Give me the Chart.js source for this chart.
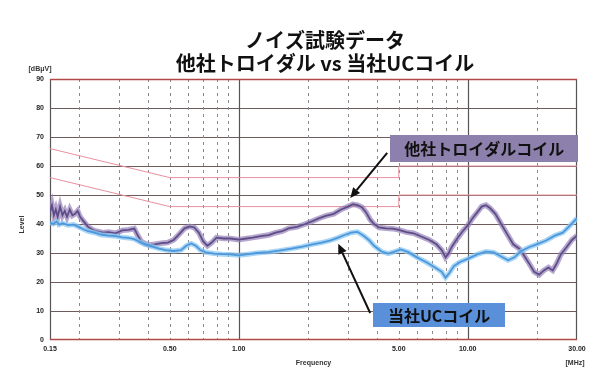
<!DOCTYPE html>
<html>
<head>
<meta charset="utf-8">
<script src="https://cdn.jsdelivr.net/npm/chart.js@4/dist/chart.umd.min.js"></script>
<style>
  html, body { margin: 0; padding: 0; background: #ffffff; }
  canvas { display: block; }
</style>
</head>
<body>
<canvas id="chart" width="597" height="388"></canvas>
<script>
// ---- text ----
const titleLines = ['ノイズ試験データ', '他社トロイダル vs 当社UCコイル'];
const seriesNames = ['他社トロイダルコイル', '当社UCコイル'];
const yUnit = '[dBμV]';
const yTitle = 'Level';
const xTitle = 'Frequency';
const xUnit = '[MHz]';

// ---- axes ----
const xTickValues = [0.15, 0.5, 1, 5, 10, 30];
const xGridMinor = [0.2, 0.3, 0.4, 0.5, 0.6, 0.7, 0.8, 0.9, 2, 3, 4, 5, 6, 7, 8, 9, 20];
const xGridMajor = [1, 10];
const yTickValues = [0, 10, 20, 30, 40, 50, 60, 70, 80, 90];

// ---- measured noise: other company's toroidal coil (MHz, dBμV) ----
const otherFreq = [0.150, 0.153, 0.156, 0.159, 0.162, 0.166, 0.170, 0.174, 0.178, 0.183,
  0.188, 0.193, 0.198, 0.203, 0.21, 0.22, 0.23, 0.24, 0.255, 0.27,
  0.29, 0.31, 0.33, 0.35, 0.36, 0.375, 0.39, 0.41, 0.43, 0.46,
  0.49, 0.52, 0.55, 0.58, 0.61, 0.64, 0.67, 0.70, 0.73, 0.76,
  0.80, 0.86, 0.92, 1.0, 1.08, 1.15, 1.25, 1.35, 1.45, 1.55,
  1.65, 1.8, 1.95, 2.1, 2.25, 2.4, 2.6, 2.8, 3.0, 3.15,
  3.3, 3.45, 3.6, 3.75, 3.9, 4.1, 4.4, 4.7, 5.0, 5.4,
  5.8, 6.3, 6.8, 7.3, 7.7, 8.0, 8.2, 8.5, 9.0, 9.5,
  10.0, 10.5, 11.0, 11.5, 12.0, 12.5, 13.2, 14.0, 15.0, 15.8,
  16.8, 17.5, 18.5, 19.5, 20.5, 21.5, 22.5, 23.5, 24.5, 25.5,
  27, 28.5, 30];
const otherLevel = [44, 46.5, 43, 45, 42.5, 46, 43, 44.5, 42.5, 45,
  43, 43.5, 44.5, 42.5, 41, 39, 38, 37.5, 37, 37.2,
  36.8, 37.8, 38, 38.4, 36.5, 34, 33.2, 32.8, 33, 33.4,
  33.6, 34.5, 36.5, 38.5, 39.2, 38.8, 37, 34, 32.5, 33.5,
  35.3, 35, 35, 34.6, 35, 35.3, 35.8, 36.2, 37, 37.5,
  38.5, 39, 40, 41, 42, 42.8, 43.5, 45, 46, 46.8,
  46.5, 45.8, 44, 41.5, 40, 38.8, 38.5, 38.4, 38, 37.2,
  36.8, 35.6, 34.5, 33, 31, 28.5, 29.5, 32, 35, 37.5,
  39.5, 42, 44, 46, 46.5, 45.5, 43.5, 40, 36, 33,
  31.5, 29.5, 26.5, 23.5, 22.5, 24, 25, 24, 26.5, 29.5,
  32, 34.5, 36];

// ---- measured noise: our UC coil (MHz, dBμV) ----
const ucFreq = [0.150, 0.155, 0.16, 0.165, 0.17, 0.18, 0.19, 0.2, 0.21, 0.22,
  0.235, 0.25, 0.27, 0.29, 0.31, 0.33, 0.35, 0.37, 0.39, 0.42,
  0.45, 0.48, 0.52, 0.56, 0.59, 0.62, 0.65, 0.68, 0.72, 0.78,
  0.85, 0.92, 1.0, 1.1, 1.2, 1.35, 1.5, 1.7, 1.9, 2.1,
  2.3, 2.5, 2.7, 2.9, 3.1, 3.3, 3.5, 3.7, 3.9, 4.2,
  4.5, 4.8, 5.1, 5.5, 6.0, 6.6, 7.2, 7.7, 8.0, 8.3,
  8.7, 9.3, 10, 11, 12, 13, 14, 15, 16, 17,
  18.5, 20, 22, 24, 26, 28, 30];
const ucLevel = [40.5, 40, 40.8, 39.8, 40.3, 39.6, 39.8, 39, 38.2, 37.5,
  37, 36.3, 36, 35.8, 35.4, 35.2, 34.8, 33.8, 33, 32.2,
  31.5, 31, 30.7, 31, 32.5, 33.3, 32.5, 31, 30.2, 29.8,
  29.6, 29.5, 29.2, 29.6, 30, 30.3, 30.8, 31.5, 32.2, 33,
  33.6, 34.3, 35.2, 36.2, 37, 37.3, 36, 34.5, 32.5, 30.5,
  29.8, 30.5, 31.2, 30.3, 28.5, 26.8, 25, 23.5, 21.5, 23,
  25.5, 27, 28, 29.5, 30.5, 30.2, 28.8, 27.5, 28.5, 30.5,
  32, 33, 34.3, 36, 37, 39.5, 42];

// ---- conducted emission limits (quasi-peak and average) ----
const limitFreq = [0.15, 0.5, 5, 5, 30];
const qpLimit = [66, 56, 56, 60, 60];
const avLimit = [56, 46, 46, 50, 50];

// ---- callout anchors, in data units (MHz, dBμV) ----
const otherCallout = { box: [11.8, 66.2], from: [4.45, 64.5], tip: [3.07, 49] };
const ucCallout = { box: [7.5, 8.6], from: [3.75, 9.3], tip: [2.72, 33.2] };

const pts = (xs, ys) => xs.map((x, i) => ({ x: x, y: ys[i] }));

const BASE_FONT = '"Liberation Sans", Arial, sans-serif';
const CJK_FONT = '"Noto Sans CJK JP", "Noto Sans", sans-serif';

function arrow(ctx, x1, y1, x2, y2) {
  const ang = Math.atan2(y2 - y1, x2 - x1);
  const head = 10, wing = 4.5;
  const bx = x2 - head * Math.cos(ang), by = y2 - head * Math.sin(ang);
  ctx.save();
  ctx.strokeStyle = '#111';
  ctx.fillStyle = '#111';
  ctx.lineWidth = 2;
  ctx.beginPath();
  ctx.moveTo(x1, y1);
  ctx.lineTo(bx, by);
  ctx.stroke();
  ctx.beginPath();
  ctx.moveTo(x2, y2);
  ctx.lineTo(bx + wing * Math.sin(ang), by - wing * Math.cos(ang));
  ctx.lineTo(bx - wing * Math.sin(ang), by + wing * Math.cos(ang));
  ctx.closePath();
  ctx.fill();
  ctx.restore();
}

function labelBox(ctx, cx, cy, w, h, fill, text) {
  ctx.save();
  ctx.fillStyle = fill;
  ctx.fillRect(Math.round(cx - w / 2), Math.round(cy - h / 2), w, h);
  ctx.fillStyle = '#111';
  ctx.font = 'bold 16px ' + CJK_FONT;
  ctx.textAlign = 'center';
  ctx.textBaseline = 'middle';
  ctx.fillText(text, cx, cy + 1);
  ctx.restore();
}

const gridPlugin = {
  id: 'emcGrid',
  beforeDatasetsDraw(chart) {
    const { ctx, chartArea: a, scales: { x, y } } = chart;
    ctx.save();
    // horizontal lines every 10 dB
    ctx.lineWidth = 1.2;
    ctx.strokeStyle = '#6e5c5c';
    yTickValues.forEach(v => {
      if (v === 0 || v === 90) return;
      const py = Math.round(y.getPixelForValue(v)) + 0.5;
      ctx.beginPath(); ctx.moveTo(a.left, py); ctx.lineTo(a.right, py); ctx.stroke();
    });
    // dashed frequency grid
    ctx.lineWidth = 1;
    ctx.strokeStyle = '#8a8a8a';
    ctx.setLineDash([3, 4]);
    xGridMinor.forEach(v => {
      const px = Math.round(x.getPixelForValue(v)) + 0.5;
      ctx.beginPath(); ctx.moveTo(px, a.top); ctx.lineTo(px, a.bottom); ctx.stroke();
    });
    ctx.setLineDash([]);
    // solid decade lines
    ctx.strokeStyle = '#555';
    ctx.lineWidth = 1.2;
    xGridMajor.forEach(v => {
      const px = Math.round(x.getPixelForValue(v)) + 0.5;
      ctx.beginPath(); ctx.moveTo(px, a.top); ctx.lineTo(px, a.bottom); ctx.stroke();
    });
    // frame
    ctx.strokeStyle = '#555';
    ctx.beginPath();
    ctx.moveTo(a.left + 0.5, a.top); ctx.lineTo(a.left + 0.5, a.bottom);
    ctx.moveTo(a.right - 0.5, a.top); ctx.lineTo(a.right - 0.5, a.bottom);
    ctx.stroke();
    ctx.strokeStyle = '#b24848';
    ctx.lineWidth = 1.4;
    ctx.beginPath();
    ctx.moveTo(a.left, a.top + 0.5); ctx.lineTo(a.right, a.top + 0.5);
    ctx.moveTo(a.left, a.bottom - 0.5); ctx.lineTo(a.right, a.bottom - 0.5);
    ctx.stroke();
    ctx.restore();
  },
  afterDraw(chart) {
    const { ctx, chartArea: a, scales: { x, y } } = chart;
    ctx.save();
    // title
    ctx.fillStyle = '#111';
    ctx.textAlign = 'center';
    ctx.textBaseline = 'middle';
    ctx.font = 'bold 20px ' + CJK_FONT;
    ctx.fillText(titleLines[0], 325, 40);
    ctx.fillText(titleLines[1], 325, 63);
    // axis captions
    ctx.font = 'bold 7px ' + BASE_FONT;
    ctx.fillStyle = '#333';
    ctx.fillText(yUnit, 40, 69);
    ctx.fillText(xTitle, (a.left + a.right) / 2, 363);
    ctx.fillText(xUnit, a.right - 2, 363);
    ctx.save();
    ctx.translate(22, (a.top + a.bottom) / 2 + 15);
    ctx.rotate(-Math.PI / 2);
    ctx.fillText(yTitle, 0, 0);
    ctx.restore();
    // callouts
    const P = p => [x.getPixelForValue(p[0]), y.getPixelForValue(p[1])];
    const o = otherCallout, u = ucCallout;
    const ob = P(o.box), of = P(o.from), ot = P(o.tip);
    const ub = P(u.box), uf = P(u.from), ut = P(u.tip);
    arrow(ctx, of[0], of[1], ot[0], ot[1]);
    arrow(ctx, uf[0], uf[1], ut[0], ut[1]);
    labelBox(ctx, ob[0], ob[1], 188, 27, '#8e80ad', seriesNames[0]);
    labelBox(ctx, ub[0], ub[1], 132, 24, '#5a8fd9', seriesNames[1]);
    ctx.restore();
  }
};

new Chart(document.getElementById('chart'), {
  type: 'line',
  data: {
    datasets: [
      { label: seriesNames[1], data: pts(ucFreq, ucLevel), borderColor: 'rgba(140,200,240,0.75)', borderWidth: 5, order: 2 },
      { label: seriesNames[1], data: pts(ucFreq, ucLevel), borderColor: '#4d97dc', borderWidth: 1.8, order: 1 },
      { label: seriesNames[0], data: pts(otherFreq, otherLevel), borderColor: 'rgba(150,130,185,0.7)', borderWidth: 5.5, order: 4 },
      { label: seriesNames[0], data: pts(otherFreq, otherLevel), borderColor: '#5f4d88', borderWidth: 1.8, order: 3 },
      { label: 'QP', data: pts(limitFreq, qpLimit), borderColor: '#e8909e', borderWidth: 1, order: 5 },
      { label: 'AV', data: pts(limitFreq, avLimit), borderColor: '#e8909e', borderWidth: 1, order: 6 }
    ]
  },
  options: {
    responsive: false,
    animation: false,
    devicePixelRatio: 1,
    parsing: true,
    elements: { point: { radius: 0 }, line: { tension: 0, fill: false } },
    layout: { padding: { left: 0, right: 20, top: 79, bottom: 0 } },
    plugins: { legend: { display: false }, title: { display: false }, tooltip: { enabled: false } },
    scales: {
      x: {
        type: 'logarithmic',
        min: 0.15,
        max: 30,
        grid: { display: false, drawTicks: false },
        border: { display: false },
        afterBuildTicks: s => { s.ticks = xTickValues.map(v => ({ value: v })); },
        afterFit: s => { s.height = 48; },
        ticks: {
          autoSkip: false,
          maxRotation: 0,
          padding: 5,
          color: '#222',
          font: { family: BASE_FONT, size: 7, weight: 'bold' },
          callback: v => Number(v).toFixed(2)
        }
      },
      y: {
        min: 0,
        max: 90,
        grid: { display: false, drawTicks: false },
        border: { display: false },
        afterBuildTicks: s => { s.ticks = yTickValues.map(v => ({ value: v })); },
        afterFit: s => { s.width = 50; },
        ticks: {
          padding: 6,
          color: '#222',
          font: { family: BASE_FONT, size: 7, weight: 'bold' }
        }
      }
    }
  },
  plugins: [gridPlugin]
});
</script>
</body>
</html>
